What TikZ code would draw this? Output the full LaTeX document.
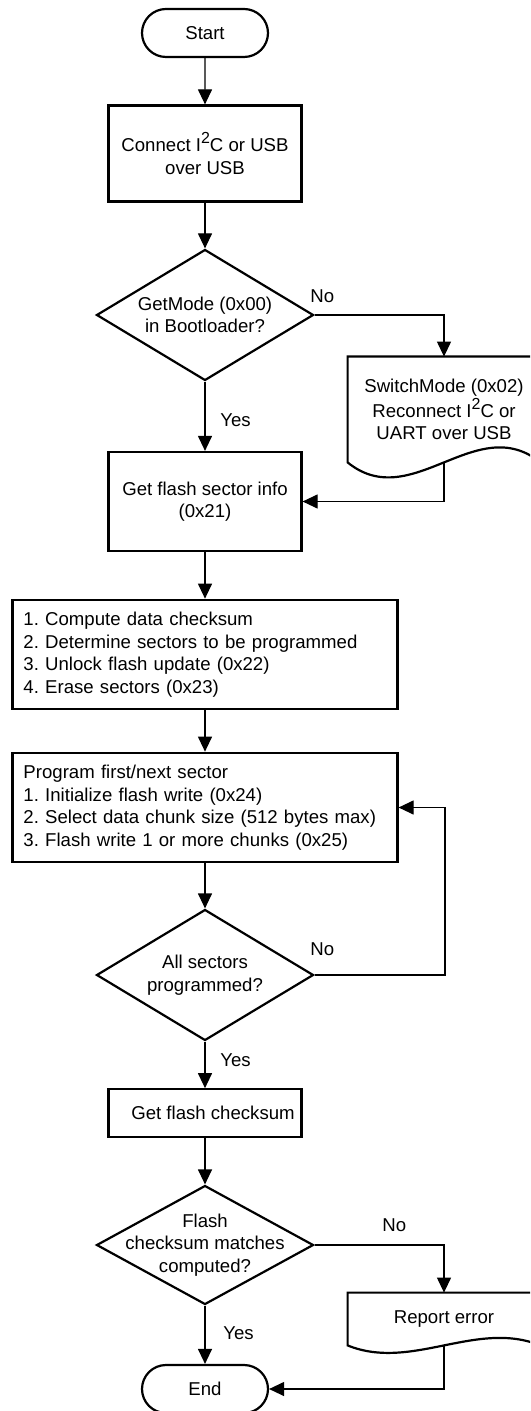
\documentclass[tikz,border=0pt]{standalone}
\usepackage{fontspec}
\setmainfont{Liberation Sans}
\usetikzlibrary{shapes.geometric}
\usetikzlibrary{shapes.misc}
\usetikzlibrary{arrows.meta}
\frenchspacing
\newcommand{\sqr}{\raisebox{4pt}{\fontsize{8pt}{8pt}\selectfont 2}}

\begin{document}
\begin{tikzpicture}[x=0.5pt,y=-0.5pt,
  font=\fontsize{9.3pt}{11.3pt}\selectfont,
  outline/.style={line width=1.1pt},
  term/.style={rounded rectangle,draw,outline,minimum width=63pt,minimum height=24pt,inner sep=0pt},
  proc/.style={rectangle,draw,outline,minimum width=96.5pt,align=center,inner sep=0pt},
  listbox/.style={rectangle,draw,outline,text width=181.5pt,inner xsep=5.5pt,inner ysep=0pt,minimum height=54.75pt,align=left},
  decide/.style={diamond,draw,outline,minimum width=108.5pt,inner sep=0pt},
  dialabel/.style={align=center,inner sep=0pt},
  docnode/.style={rectangle,minimum width=96pt,inner sep=0pt,align=center},
  wire/.style={line width=0.6pt},
  flow/.style={wire,-{Triangle[length=7.5pt,width=7pt]}},
  lbl/.style={anchor=base west,inner sep=0pt}]
\useasboundingbox (0,0) rectangle (530,1411);
\clip (0,0) rectangle (530,1411);

% main column
\node[term] (start) at (205,33) {Start};
\node[proc,minimum height=48pt] (conn) at (205,153.5) {Connect I\sqr C or USB\\over USB};
\node[decide,minimum height=65.5pt] (mode) at (205,315) {};
\node[dialabel] (modetxt) at (mode) {GetMode (0x00)\\in Bootloader?};
\node[proc,minimum height=49.5pt] (info) at (205,501.5) {Get flash sector info\\(0x21)};
\node[listbox] (prep) at (205,654.5) {1. Compute data checksum\\2. Determine sectors to be programmed\\3. Unlock flash update (0x22)\\4. Erase sectors (0x23)};
\node[listbox] (prog) at (205,807.5) {Program first/next sector\\1. Initialize flash write (0x24)\\2. Select data chunk size (512 bytes max)\\3. Flash write 1 or more chunks (0x25)};
\node[decide,minimum height=65.5pt] (allsec) at (205,975) {};
\node[dialabel] (allsectxt) at (allsec) {All sectors\\programmed?};
\node[proc,minimum height=23.75pt] (getsum) at (205,1113) {\hspace{8pt}Get flash checksum};
\node[decide,minimum height=59.5pt] (match) at (205,1245) {};
\node[dialabel] (matchtxt) at (match) {Flash\\checksum matches\\computed?};
\node[term] (finish) at (205,1389) {End};

% side documents
\node[docnode,minimum height=52.5pt] (switch) at (444,409.5) {SwitchMode (0x02)\\Reconnect I\sqr C or\\UART over USB};
\draw[outline] (switch.south west) -- (switch.north west) -- (switch.north east) -- (switch.south east)
  .. controls +(-64,-52) and +(64,52) .. (switch.south west) -- cycle;
\node[docnode,minimum height=26pt] (report) at (444,1319) {\raisebox{2pt}{Report error}};
\draw[outline] (report.south west) -- (report.north west) -- (report.north east) -- (report.south east)
  .. controls +(-64,-26) and +(64,26) .. (report.south west) -- cycle;

% connectors
\coordinate (back) at (445,975);
\draw[flow] (start) -- (conn);
\draw[flow] (conn) -- (mode);
\draw[flow] (mode.east) -| (switch.north);
\draw[flow] (mode.south) -- (info.north);
\draw[flow] (switch.south) |- (info.east);
\draw[flow] (info) -- (prep);
\draw[flow] (prep) -- (prog);
\draw[flow] (prog.south) -- (allsec.north);
\draw[flow] (allsec.east) -- (back) |- (prog.east);
\draw[flow] (allsec.south) -- (getsum.north);
\draw[flow] (getsum.south) -- (match.north);
\draw[flow] (match.east) -| (report.north);
\draw[flow] (match.south) -- (finish.north);
\draw[flow] (report.south) |- (finish.east);

% branch labels
\node[lbl] (no1) at (310,303) {No};
\node[lbl] (yes1) at (220,427) {Yes};
\node[lbl] (no2) at (310,955) {No};
\node[lbl] (yes2) at (220,1066) {Yes};
\node[lbl] (no3) at (382,1231) {No};
\node[lbl] (yes3) at (223,1339) {Yes};

\end{tikzpicture}
\end{document}
